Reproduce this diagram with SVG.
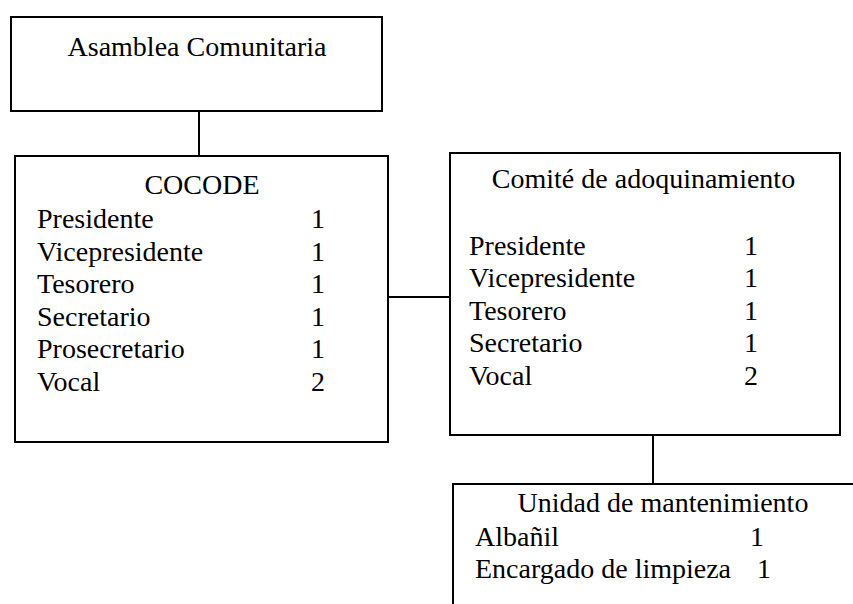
<svg xmlns="http://www.w3.org/2000/svg" width="853" height="604" viewBox="0 0 853 604">
<style>
.box{fill:#fff;stroke:#000;stroke-width:2}
.con{fill:none;stroke:#000;stroke-width:2}
.t{font-family:'Liberation Serif','DejaVu Serif',serif;font-size:28px;fill:#000}
.c{text-anchor:middle}
</style>
<rect width="853" height="604" fill="#fff"/>
<g id="connectors">
<line class="con" x1="199" y1="111" x2="199" y2="156"/>
<line class="con" x1="388" y1="297" x2="450" y2="297"/>
<line class="con" x1="653" y1="435" x2="653" y2="484"/>
</g>
<g id="asamblea" class="t">
<rect class="box" x="11" y="17" width="371" height="94"/>
<text class="c" x="197" y="56">Asamblea Comunitaria</text>
</g>
<g id="cocode" class="t">
<rect class="box" x="15" y="156" width="373" height="286"/>
<text class="c" x="202" y="194">COCODE</text>
<text x="37" y="228">Presidente</text><text class="c" x="318" y="228">1</text>
<text x="37" y="260.5">Vicepresidente</text><text class="c" x="318" y="260.5">1</text>
<text x="37" y="293">Tesorero</text><text class="c" x="318" y="293">1</text>
<text x="37" y="325.5">Secretario</text><text class="c" x="318" y="325.5">1</text>
<text x="37" y="358">Prosecretario</text><text class="c" x="318" y="358">1</text>
<text x="37" y="390.5">Vocal</text><text class="c" x="318" y="390.5">2</text>
</g>
<g id="comite" class="t">
<rect class="box" x="450" y="153" width="390" height="282"/>
<text class="c" x="643.5" y="188">Comité de adoquinamiento</text>
<text x="469" y="254.5">Presidente</text><text class="c" x="751" y="254.5">1</text>
<text x="469" y="287">Vicepresidente</text><text class="c" x="751" y="287">1</text>
<text x="469" y="319.5">Tesorero</text><text class="c" x="751" y="319.5">1</text>
<text x="469" y="352">Secretario</text><text class="c" x="751" y="352">1</text>
<text x="469" y="385">Vocal</text><text class="c" x="751" y="385">2</text>
</g>
<g id="unidad" class="t">
<path class="con" d="M453,606 V484 H855"/>
<text class="c" x="663" y="512">Unidad de mantenimiento</text>
<text x="475" y="546">Albañil</text><text class="c" x="757" y="546">1</text>
<text x="475" y="578">Encargado de limpieza</text><text class="c" x="764" y="578">1</text>
</g>
</svg>
